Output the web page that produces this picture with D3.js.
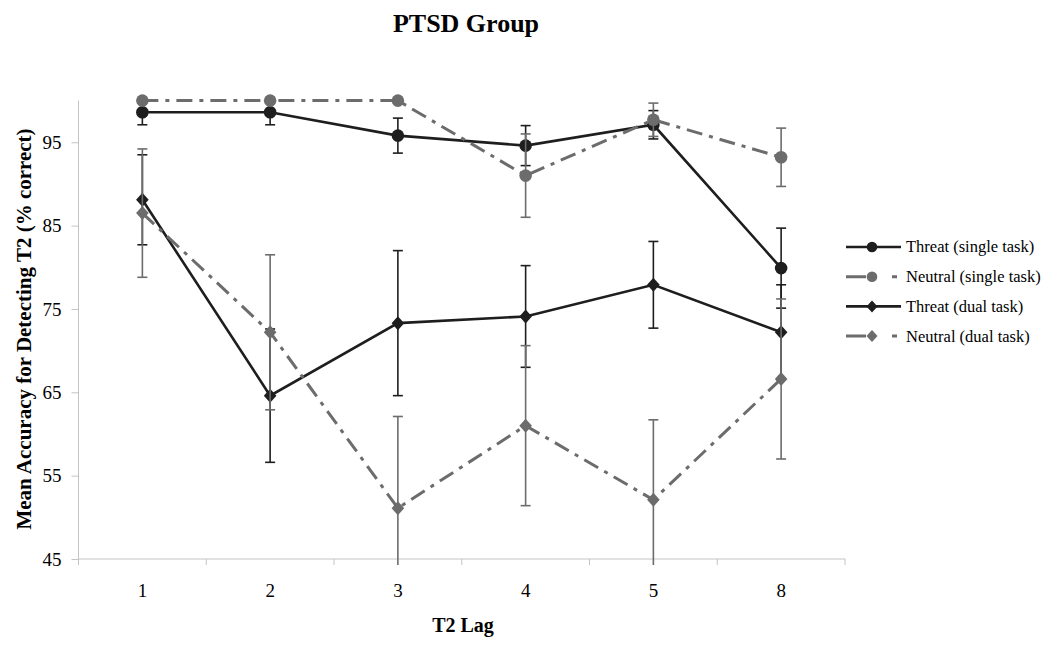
<!DOCTYPE html>
<html>
<head>
<meta charset="utf-8">
<script src="https://cdn.jsdelivr.net/npm/d3@7"></script>
<style>
  html, body { margin: 0; padding: 0; background: #fff; }
  svg { display: block; }
  text { font-family: "Liberation Serif", "Times New Roman", serif; fill: #000; }
</style>
</head>
<body>
<svg id="chart" width="1050" height="648"></svg>
<script>
// ---- data ----
const categories = ["1", "2", "3", "4", "5", "8"];
const yTicks = [45, 55, 65, 75, 85, 95];

const threatSingle    = [98.6, 98.6, 95.8, 94.6, 97.1, 79.9];
const threatSingleErr = [1.5, 1.5, 2.1, 2.4, 1.7, 4.8];
const neutralSingle    = [100, 100, 100, 91.0, 97.7, 93.2];
const neutralSingleErr = [0, 0, 0, 5.0, 2.0, 3.5];
const threatDual    = [88.1, 64.6, 73.3, 74.1, 77.9, 72.2];
const threatDualErr = [5.4, 8.0, 8.7, 6.1, 5.2, 5.7];
const neutralDual    = [86.5, 72.2, 51.1, 61.0, 52.1, 66.6];
const neutralDualErr = [7.7, 9.3, 11.0, 9.6, 9.6, 9.6];

const seriesNames = ["Threat (single task)", "Neutral (single task)", "Threat (dual task)", "Neutral (dual task)"];

// ---- styling ----
const dark = "#1e1e1e", grey = "#6c6c6c";
const series = [
  { name: seriesNames[0], values: threatSingle, err: threatSingleErr, color: dark, dash: null, shape: "circle", width: 2.6 },
  { name: seriesNames[1], values: neutralSingle, err: neutralSingleErr, color: grey, dash: "16,7,4,7", shape: "circle", width: 3 },
  { name: seriesNames[2], values: threatDual, err: threatDualErr, color: dark, dash: null, shape: "diamond", width: 2.6 },
  { name: seriesNames[3], values: neutralDual, err: neutralDualErr, color: grey, dash: "16,7,4,7", shape: "diamond", width: 3 }
];

const svg = d3.select("#chart");
const pLeft = 78.5, pRight = 845, pTop = 100.6, pBottom = 559;

const x = d3.scaleBand().domain(categories).range([pLeft, pRight]).padding(0);
const y = d3.scaleLinear().domain([45, 100]).range([pBottom, pTop]);
const cx = c => x(c) + x.bandwidth() / 2;

// clip for error bars (extend slightly below axis like the original)
svg.append("defs").append("clipPath").attr("id", "clip")
  .append("rect").attr("x", 0).attr("y", 0).attr("width", 1050).attr("height", 565);

// ---- axes ----
const axisColor = "#c4c4c4";
const yAxis = svg.append("g").attr("transform", `translate(${pLeft},0)`)
  .call(d3.axisLeft(y).tickValues(yTicks).tickSize(7).tickPadding(10).tickFormat(d3.format("d")));
yAxis.select(".domain").attr("stroke", axisColor).attr("d", `M0,${pBottom}V${pTop}`);
yAxis.selectAll(".tick line").attr("stroke", axisColor);
yAxis.selectAll(".tick text").style("font-family", '"Liberation Serif", serif').style("font-size", "19px").attr("fill", "#000");

const xAxis = svg.append("g").attr("transform", `translate(0,${pBottom})`)
  .call(d3.axisBottom(x).tickSize(0).tickPadding(0).tickFormat(d => d));
xAxis.select(".domain").attr("stroke", axisColor).attr("d", `M${pLeft},0H${pRight}`);
xAxis.selectAll(".tick text").attr("y", 38).attr("dy", 0)
  .style("font-family", '"Liberation Serif", serif').style("font-size", "19px").attr("fill", "#000");
const bounds = categories.map(c => x(c) + x.bandwidth()).concat([x(categories[0])]);
xAxis.selectAll("line.bound").data(bounds).enter().append("line")
  .attr("class", "bound").attr("x1", d => d).attr("x2", d => d)
  .attr("y1", 0).attr("y2", 6).attr("stroke", axisColor);

// ---- series ----
const diamondPath = "M0,-7L6.3,0L0,7L-6.3,0Z";
series.forEach(s => {
  const g = svg.append("g");
  const pts = categories.map((c, i) => ({ c, v: s.values[i], e: s.err[i] }));
  const eb = g.append("g").attr("clip-path", "url(#clip)");
  pts.filter(p => p.e > 0).forEach(p => {
    const X = cx(p.c);
    eb.append("line").attr("x1", X).attr("x2", X).attr("y1", y(p.v + p.e)).attr("y2", y(p.v - p.e))
      .attr("stroke", s.color).attr("stroke-width", 1.6);
    [p.v + p.e, p.v - p.e].forEach(v => {
      eb.append("line").attr("x1", X - 5).attr("x2", X + 5).attr("y1", y(v)).attr("y2", y(v))
        .attr("stroke", s.color).attr("stroke-width", 1.6);
    });
  });
  g.append("path").datum(pts)
    .attr("d", d3.line().x(p => cx(p.c)).y(p => y(p.v)))
    .attr("fill", "none").attr("stroke", s.color).attr("stroke-width", s.width)
    .attr("stroke-dasharray", s.dash);
  pts.forEach(p => {
    if (s.shape === "circle") {
      g.append("circle").attr("cx", cx(p.c)).attr("cy", y(p.v)).attr("r", 6.3).attr("fill", s.color);
    } else {
      g.append("path").attr("d", diamondPath).attr("transform", `translate(${cx(p.c)},${y(p.v)})`).attr("fill", s.color);
    }
  });
});

// ---- legend ----
const legend = svg.append("g");
series.forEach((s, i) => {
  const ly = 247 + i * 29.7;
  const row = legend.append("g").attr("transform", `translate(0,${ly})`);
  row.append("line").attr("x1", 846).attr("x2", 901).attr("y1", 0).attr("y2", 0)
    .attr("stroke", s.color).attr("stroke-width", s.width)
    .attr("stroke-dasharray", s.dash ? "20,26,5,20" : null);
  if (s.shape === "circle") row.append("circle").attr("cx", 872).attr("cy", 0).attr("r", 5.3).attr("fill", s.color);
  else row.append("path").attr("d", "M0,-6L5.5,0L0,6L-5.5,0Z").attr("transform", "translate(872,0)").attr("fill", s.color);
  row.append("text").attr("x", 906).attr("y", 0).attr("dy", "0.33em")
    .style("font-size", "16.5px").text(s.name);
});

// ---- titles ----
svg.append("text").attr("x", 466).attr("y", 32).attr("text-anchor", "middle")
  .style("font-size", "26px").style("font-weight", "bold").text("PTSD Group");
svg.append("text").attr("x", 463).attr("y", 632).attr("text-anchor", "middle")
  .style("font-size", "20px").style("font-weight", "bold").text("T2 Lag");
svg.append("text").attr("transform", "translate(31,329) rotate(-90)").attr("text-anchor", "middle")
  .style("font-size", "21px").style("font-weight", "bold").text("Mean Accuracy for Detecting T2 (% correct)");
</script>
</body>
</html>
